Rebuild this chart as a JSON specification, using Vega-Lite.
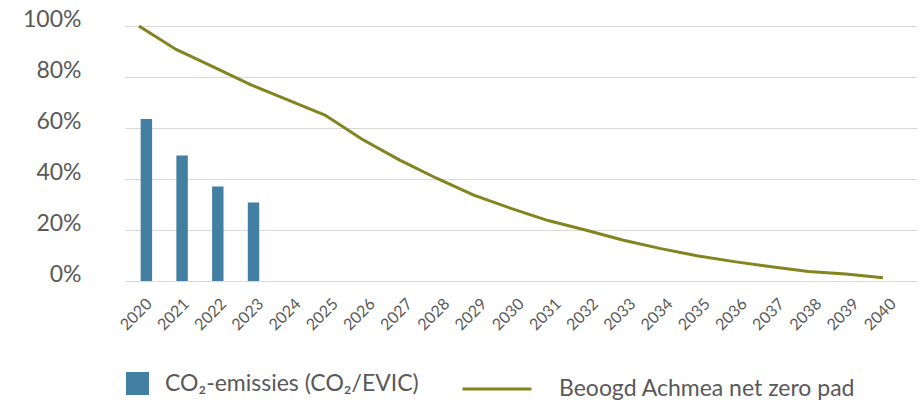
{
  "$schema": "https://vega.github.io/schema/vega-lite/v6.json",
  "width": 792,
  "height": 255,
  "autosize": {"type": "none"},
  "padding": {"left": 125, "top": 26, "right": 6, "bottom": 121},
  "background": "white",
  "config": {"font": "Lato", "view": {"stroke": null}},
  "data": {
    "values": [
      {"year": 2020, "emissions": 0.635, "target": 1.0},
      {"year": 2021, "emissions": 0.492, "target": 0.908},
      {"year": 2022, "emissions": 0.371, "target": 0.84},
      {"year": 2023, "emissions": 0.308, "target": 0.77},
      {"year": 2024, "emissions": null, "target": 0.71},
      {"year": 2025, "emissions": null, "target": 0.651},
      {"year": 2026, "emissions": null, "target": 0.556},
      {"year": 2027, "emissions": null, "target": 0.475},
      {"year": 2028, "emissions": null, "target": 0.403},
      {"year": 2029, "emissions": null, "target": 0.337},
      {"year": 2030, "emissions": null, "target": 0.285},
      {"year": 2031, "emissions": null, "target": 0.237},
      {"year": 2032, "emissions": null, "target": 0.2},
      {"year": 2033, "emissions": null, "target": 0.161},
      {"year": 2034, "emissions": null, "target": 0.128},
      {"year": 2035, "emissions": null, "target": 0.099},
      {"year": 2036, "emissions": null, "target": 0.076},
      {"year": 2037, "emissions": null, "target": 0.056},
      {"year": 2038, "emissions": null, "target": 0.037},
      {"year": 2039, "emissions": null, "target": 0.027},
      {"year": 2040, "emissions": null, "target": 0.013}
    ]
  },
  "resolve": {"scale": {"x": "independent"}},
  "layer": [
    {
      "mark": {"type": "bar"},
      "encoding": {
        "x": {
          "field": "year",
          "type": "ordinal",
          "scale": {
            "domain": [2020, 2021, 2022, 2023, 2024, 2025, 2026, 2027, 2028, 2029, 2030, 2031, 2032, 2033, 2034, 2035, 2036, 2037, 2038, 2039, 2040],
            "paddingInner": 0.68,
            "paddingOuter": 0.93,
            "align": 0.236
          },
          "axis": null
        },
        "y": {
          "field": "emissions",
          "type": "quantitative",
          "scale": {"domain": [0, 1]},
          "axis": {
            "values": [0, 0.2, 0.4, 0.6, 0.8, 1],
            "format": "%",
            "labelFontSize": 23,
            "labelColor": "#595959",
            "labelPadding": 44,
            "labelBaseline": "alphabetic",
            "ticks": false,
            "domain": false,
            "grid": true,
            "gridColor": "#d9d9d9",
            "gridWidth": 1,
            "title": null
          }
        },
        "fill": {
          "datum": "CO₂-emissies (CO₂/EVIC)",
          "scale": {"range": ["#427FA3"]},
          "legend": {
            "orient": "none",
            "legendX": 1,
            "legendY": 346,
            "title": null,
            "symbolType": "square",
            "symbolSize": 529,
            "symbolStrokeWidth": 0,
            "labelFontSize": 23,
            "labelColor": "#595959",
            "labelOffset": 16,
            "labelLimit": 400
          }
        }
      }
    },
    {
      "mark": {"type": "line", "strokeWidth": 3},
      "encoding": {
        "x": {
          "field": "year",
          "type": "ordinal",
          "scale": {"type": "point", "padding": 0.645, "align": 0.29},
          "axis": {
            "labelAngle": -45,
            "labelAlign": "right",
            "labelBaseline": "middle",
            "labelFontSize": 16,
            "labelColor": "#595959",
            "labelPadding": 20,
            "labelOffset": 10,
            "ticks": false,
            "domain": false,
            "grid": false,
            "title": null
          }
        },
        "y": {
          "field": "target",
          "type": "quantitative",
          "scale": {"domain": [0, 1]},
          "axis": {
            "values": [0, 0.2, 0.4, 0.6, 0.8, 1],
            "format": "%",
            "labelFontSize": 23,
            "labelColor": "#595959",
            "labelPadding": 44,
            "labelBaseline": "alphabetic",
            "ticks": false,
            "domain": false,
            "grid": true,
            "gridColor": "#d9d9d9",
            "gridWidth": 1,
            "title": null
          }
        },
        "stroke": {
          "datum": "Beoogd Achmea net zero pad",
          "scale": {"range": ["#83831F"]},
          "legend": {
            "orient": "none",
            "legendX": 336,
            "legendY": 327,
            "title": null,
            "symbolType": "stroke",
            "symbolSize": 4761,
            "symbolStrokeWidth": 3,
            "labelFontSize": 23,
            "labelColor": "#595959",
            "labelOffset": 26,
            "labelLimit": 400
          }
        }
      }
    }
  ]
}
